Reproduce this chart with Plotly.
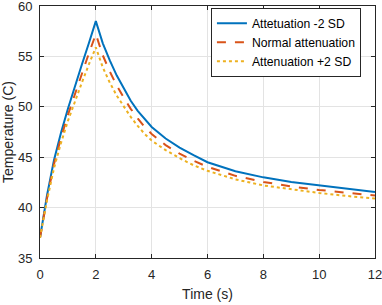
import plotly.graph_objects as go

time_s = [0, 0.25, 0.5, 0.75, 1.0, 1.25, 1.5, 1.75, 2.0,
          2.25, 2.5, 2.75, 3.0, 3.25, 3.5, 3.75, 4.0, 4.5, 5.0, 5.5, 6.0,
          7.0, 8.0, 9.0, 10.0, 11.0, 12.0]

atten_minus_2sd = [37.0, 41.2, 44.7, 47.4, 49.8, 52.1, 54.2, 56.3, 58.5,
                   56.3, 54.6, 53.1, 51.8, 50.6, 49.6, 48.75, 48.0, 46.85, 45.95, 45.2, 44.5,
                   43.6, 43.0, 42.55, 42.2, 41.85, 41.55]

atten_normal = [37.0, 40.9, 44.3, 46.9, 49.2, 51.3, 53.3, 55.3, 57.2,
                55.1, 53.5, 52.1, 50.9, 49.8, 48.85, 48.0, 47.3, 46.2, 45.35, 44.65, 44.05,
                43.15, 42.55, 42.1, 41.75, 41.45, 41.2]

atten_plus_2sd = [37.0, 40.7, 43.9, 46.4, 48.6, 50.6, 52.4, 54.2, 55.9,
                  53.9, 52.4, 51.1, 50.0, 49.0, 48.1, 47.3, 46.65, 45.7, 44.9, 44.2, 43.65,
                  42.8, 42.2, 41.8, 41.45, 41.15, 40.9]

series_names = ["Attetuation -2 SD", "Normal attenuation", "Attenuation +2 SD"]
x_ticks = [0, 2, 4, 6, 8, 10, 12]
y_ticks = [35, 40, 45, 50, 55, 60]

FONT = "Liberation Sans, Arial, sans-serif"

fig = go.Figure()
fig.add_trace(go.Scatter(x=time_s, y=atten_minus_2sd, mode="lines", name=series_names[0],
                         line=dict(color="#0072BD", width=2, dash="solid")))
fig.add_trace(go.Scatter(x=time_s, y=atten_normal, mode="lines", name=series_names[1],
                         line=dict(color="#D95319", width=2, dash="dash")))
fig.add_trace(go.Scatter(x=time_s, y=atten_plus_2sd, mode="lines", name=series_names[2],
                         line=dict(color="#EDB120", width=2, dash="dot")))

axis_common = dict(
    showline=True, linecolor="#262626", linewidth=1, mirror="allticks",
    ticks="inside", ticklen=4, tickcolor="#262626",
    showgrid=True, gridcolor="#e3e3e3", gridwidth=1, zeroline=False,
    tickfont=dict(family=FONT, size=13, color="#262626"),
    ticklabeloverflow="allow", ticklabelstandoff=4,
)

fig.update_xaxes(range=[0, 12], tickvals=x_ticks,
                 title=dict(text="Time (s)", font=dict(family=FONT, size=14, color="#262626"), standoff=8),
                 **axis_common)
fig.update_yaxes(range=[35, 60], tickvals=y_ticks,
                 title=dict(text="Temperature (C)", font=dict(family=FONT, size=14, color="#262626"), standoff=2),
                 **axis_common)

fig.update_layout(
    width=382, height=305,
    margin=dict(l=40, r=7, t=6, b=47, autoexpand=False),
    paper_bgcolor="white", plot_bgcolor="white",
    legend=dict(x=0.958, y=0.993, xanchor="right", yanchor="top",
                bgcolor="white", bordercolor="#262626", borderwidth=1,
                font=dict(family=FONT, size=12.2, color="#000000"),
                tracegroupgap=0, itemwidth=30),
    showlegend=True,
)

fig.write_html("out.html", config={"displayModeBar": False},
               post_script="document.body.style.margin='0';")
